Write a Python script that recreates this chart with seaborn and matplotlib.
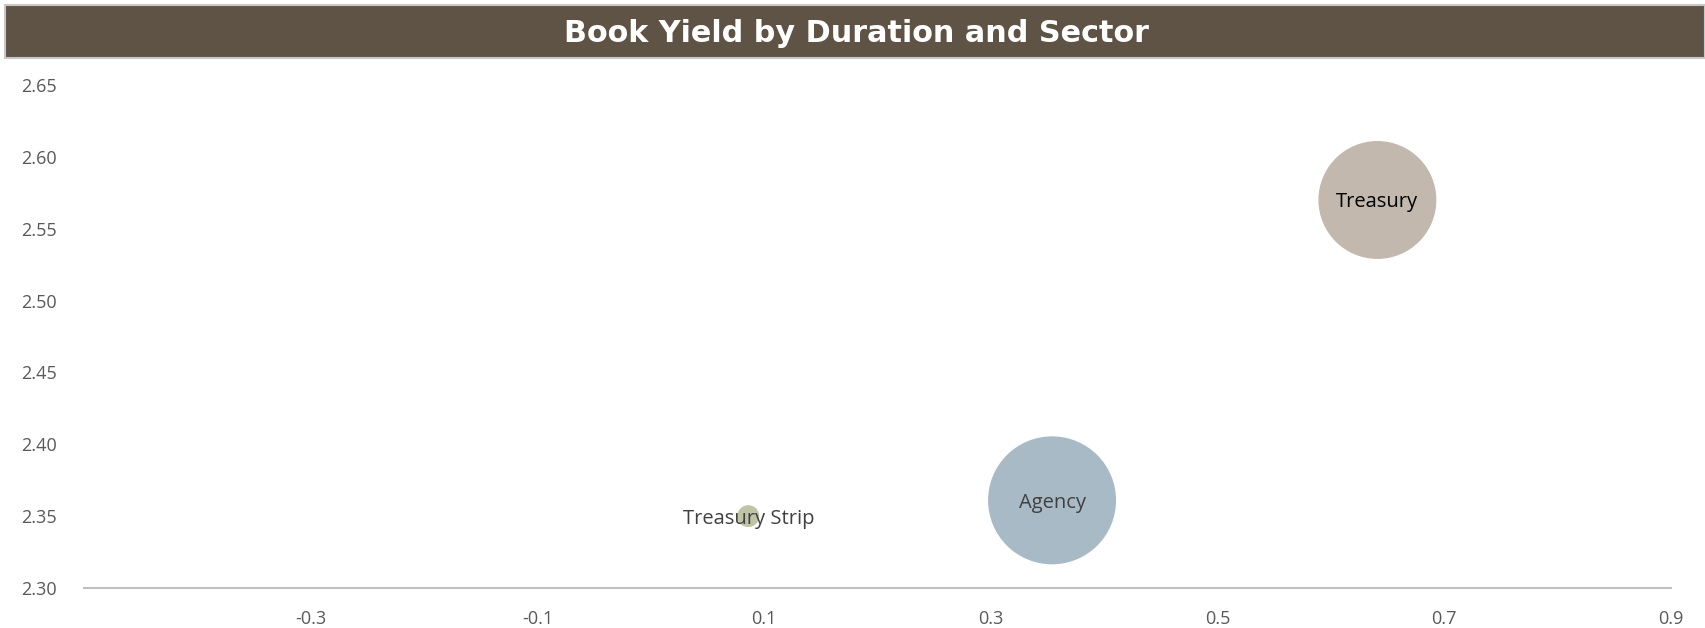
import matplotlib
matplotlib.use("Agg")
import matplotlib.pyplot as plt
import seaborn as sns
import pandas as pd
import numpy as np
from matplotlib.patches import Rectangle

# Portfolio data: effective duration, book yield and holding size per sector
sectors = ["Treasury Strip", "Agency", "Treasury"]
duration = [0.086, 0.354, 0.641]
book_yield = [2.350, 2.361, 2.570]
market_value = [1.2, 41.0, 34.8]  # $MM, drives bubble area
colors = ["#BFC4A5", "#A9BAC7", "#C2B8AD"]
label_colors = ["#404040", "#404040", "#000000"]

x_ticks = [-0.3, -0.1, 0.1, 0.3, 0.5, 0.7, 0.9]
y_ticks = [2.30, 2.35, 2.40, 2.45, 2.50, 2.55, 2.60, 2.65]

df = pd.DataFrame({"sector": sectors, "duration": duration,
                   "yield": book_yield, "mv": market_value})

sns.set_theme(style="white")
plt.rcParams["font.family"] = ["Open Sans", "DejaVu Sans"]

W, H, DPI = 1705, 628, 100
fig = plt.figure(figsize=(W / DPI, H / DPI), dpi=DPI)
ax = fig.add_axes([84 / W, 1 - 588 / H, (1671 - 84) / W, (588 - 85) / H])

# bubble area proportional to market value
area_per_mm = 8493 / 41.0
sizes = np.array(market_value) * area_per_mm
sns.scatterplot(data=df, x="duration", y="yield", hue="sector",
                palette=dict(zip(sectors, colors)), s=sizes,
                linewidth=0, alpha=1, legend=False, ax=ax, zorder=3)

for name, xv, yv, lc in zip(sectors, duration, book_yield, label_colors):
    ax.text(xv, yv, name, ha="center", va="center_baseline", fontsize=14.5,
            color=lc, zorder=4)

ax.set_xlim(-0.5, 0.9)
ax.set_ylim(2.30, 2.65)
ax.set_xticks(x_ticks)
ax.set_xticklabels([f"{t:g}" for t in x_ticks])
ax.set_yticks(y_ticks)
ax.set_yticklabels([f"{t:.2f}" for t in y_ticks])
ax.tick_params(axis="both", length=0, labelsize=13, labelcolor="#595959")
ax.tick_params(axis="x", pad=15.5)
ax.tick_params(axis="y", pad=19.5)
ax.set_xlabel("")
ax.set_ylabel("")
for side in ["top", "right", "left"]:
    ax.spines[side].set_visible(False)
ax.spines["bottom"].set_color("#BFBFBF")
ax.spines["bottom"].set_linewidth(1.5)
ax.grid(False)

# title banner
fig.patches.append(Rectangle((5 / W, 1 - 58 / H), (W - 5) / W, 53 / H,
                             transform=fig.transFigure, facecolor="#5F5346",
                             edgecolor="#C8C8C8", linewidth=1.5, zorder=0))
fig.text(856 / W, 1 - 34 / H, "Book Yield by Duration and Sector",
         ha="center", va="center", color="white", fontsize=21.8,
         fontweight="bold", family="DejaVu Sans")

fig.savefig("out.png", dpi=DPI)
